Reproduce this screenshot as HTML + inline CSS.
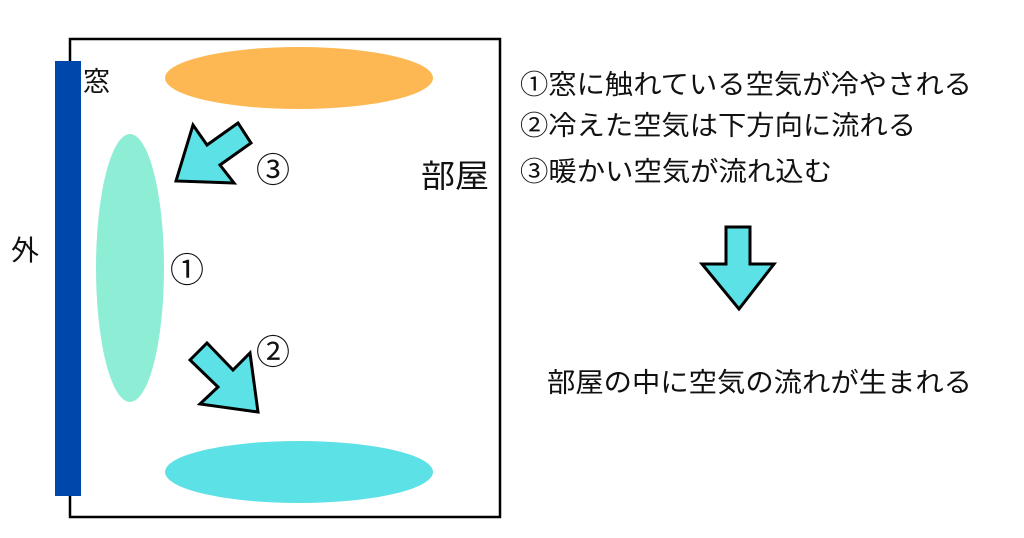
<!DOCTYPE html>
<html><head><meta charset="utf-8"><style>html,body{margin:0;padding:0;background:#fff}svg{display:block}</style></head>
<body>
<svg width="1024" height="538" viewBox="0 0 1024 538" xmlns="http://www.w3.org/2000/svg" font-family="'Liberation Sans','Noto Sans CJK JP',sans-serif" fill="#111">
<rect x="70" y="39" width="430" height="478" fill="#fff" stroke="#000" stroke-width="2.5"/>
<rect x="55" y="61" width="26" height="435" fill="#0047ab"/>
<ellipse cx="299" cy="78" rx="134" ry="31" fill="#fdb854"/>
<ellipse cx="299" cy="472" rx="134" ry="31" fill="#5ce1e6"/>
<ellipse cx="130" cy="268" rx="34" ry="134" fill="#8eedd5"/>
<polygon points="176,181 193,125 207,145 238,123 251,143 220,165 234,183" fill="#5ce1e6" stroke="#000" stroke-width="3" stroke-linejoin="miter"/>
<polygon points="190,360 207,343 233,370 250,353 258,412 200,404 218,387" fill="#5ce1e6" stroke="#000" stroke-width="3"/>
<polygon points="726,227 750,227 750,264 774,264 739,309 702,264 726,264" fill="#5ce1e6" stroke="#000" stroke-width="3"/>
<text x="83" y="91" font-size="27" font-family="'Noto Sans CJK JP',sans-serif">窓</text>
<text x="11" y="260" font-size="28" font-family="'Noto Sans CJK JP',sans-serif">外</text>
<text x="421" y="187" font-size="32" font-family="'Noto Sans CJK JP',sans-serif" textLength="68" lengthAdjust="spacingAndGlyphs">部屋</text>
<text x="256" y="182" font-size="34" font-family="'Noto Sans CJK JP',sans-serif">③</text>
<text x="170" y="282" font-size="34" font-family="'Noto Sans CJK JP',sans-serif">①</text>
<text x="256" y="364" font-size="34" font-family="'Noto Sans CJK JP',sans-serif">②</text>
<text x="520" y="94" font-size="27" textLength="452" lengthAdjust="spacingAndGlyphs">①窓に触れている空気が冷やされる</text>
<text x="520" y="135" font-size="27" textLength="396" lengthAdjust="spacingAndGlyphs">②冷えた空気は下方向に流れる</text>
<text x="520" y="181" font-size="27" textLength="312" lengthAdjust="spacingAndGlyphs">③暖かい空気が流れ込む</text>
<text x="547" y="392" font-size="27" textLength="425" lengthAdjust="spacingAndGlyphs">部屋の中に空気の流れが生まれる</text>
</svg>
</body></html>
